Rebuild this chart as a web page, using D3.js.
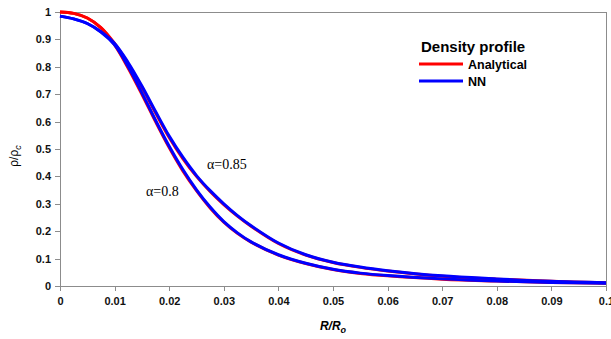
<!DOCTYPE html>
<html>
<head>
<meta charset="utf-8">
<script src="https://d3js.org/d3.v7.min.js"></script>
<style>
body, html {
    margin: 0;
    padding: 0;
    background: #fff;
    font-family: "Liberation Sans", Arial, sans-serif;
}
.axis path, .axis line {
  stroke: #8c8c8c;
  stroke-width: 1;
  shape-rendering: crispEdges;
}
.axis text {
  font-size: 11px;
  font-weight: bold;
  fill: #111;
}
.curve {
  fill: none;
  stroke-width: 3;
}
</style>
</head>
<body>
<div id="chart"></div>
<script>

// R/Ro sample positions
var rPts = [0, 0.0025, 0.005, 0.0075, 0.01, 0.0125, 0.015, 0.0175, 0.02, 0.0225,
            0.025, 0.0275, 0.03, 0.0325, 0.035, 0.04, 0.045, 0.05, 0.055, 0.06,
            0.07, 0.08, 0.09, 0.1];

// analytical, alpha = 0.8 and 0.85
var anal08  = [1.0, 0.995, 0.978, 0.942, 0.88, 0.795, 0.70, 0.60, 0.505, 0.42,
               0.348, 0.285, 0.233, 0.192, 0.16, 0.113, 0.082, 0.06, 0.046, 0.037,
               0.025, 0.018, 0.013, 0.01];
var anal085 = [1.0, 0.995, 0.978, 0.943, 0.885, 0.81, 0.725, 0.632, 0.542, 0.465,
               0.40, 0.345, 0.297, 0.255, 0.218, 0.155, 0.113, 0.086, 0.068, 0.055,
               0.036, 0.025, 0.017, 0.012];
// neural network, alpha = 0.8 and 0.85
var nn08    = [0.985, 0.975, 0.958, 0.927, 0.88, 0.80, 0.705, 0.605, 0.51, 0.425,
               0.351, 0.288, 0.235, 0.194, 0.161, 0.114, 0.083, 0.061, 0.047, 0.038,
               0.026, 0.018, 0.013, 0.01];
var nn085   = [0.985, 0.975, 0.958, 0.928, 0.885, 0.815, 0.73, 0.637, 0.547, 0.47,
               0.403, 0.348, 0.30, 0.257, 0.22, 0.157, 0.114, 0.087, 0.069, 0.056,
               0.037, 0.026, 0.017, 0.012];

var xTicks = [0, 0.01, 0.02, 0.03, 0.04, 0.05, 0.06, 0.07, 0.08, 0.09, 0.1];
var xTickLabels = ["0", "0.01", "0.02", "0.03", "0.04", "0.05", "0.06", "0.07", "0.08", "0.09", "0.1"];
var yTicks = [0, 0.1, 0.2, 0.3, 0.4, 0.5, 0.6, 0.7, 0.8, 0.9, 1];
var yTickLabels = ["0", "0.1", "0.2", "0.3", "0.4", "0.5", "0.6", "0.7", "0.8", "0.9", "1"];

var width = 611, height = 339;
var plotL = 60, plotR = 606, plotT = 12, plotB = 286;

var svg = d3.select('#chart').append('svg')
  .attr('width', width)
  .attr('height', height);

var x = d3.scaleLinear().domain([0, 0.1]).range([plotL, plotR]);
var y = d3.scaleLinear().domain([0, 1]).range([plotB, plotT]);

// plot area border (top / right)
svg.append('line').attr('x1', plotL).attr('x2', plotR).attr('y1', plotT + 0.5).attr('y2', plotT + 0.5)
  .attr('stroke', '#8c8c8c');
svg.append('line').attr('x1', plotR + 0.5).attr('x2', plotR + 0.5).attr('y1', plotT).attr('y2', plotB)
  .attr('stroke', '#8c8c8c');

svg.append('g')
  .attr('class', 'axis')
  .attr('transform', 'translate(0,' + plotB + ')')
  .call(d3.axisBottom(x).tickValues(xTicks).tickSize(5).tickSizeOuter(0).tickPadding(6)
    .tickFormat(function (d, i) { return xTickLabels[i]; }));

svg.append('g')
  .attr('class', 'axis')
  .attr('transform', 'translate(' + plotL + ',0)')
  .call(d3.axisLeft(y).tickValues(yTicks).tickSize(5).tickSizeOuter(0).tickPadding(4)
    .tickFormat(function (d, i) { return yTickLabels[i]; }));

var line = d3.line()
  .x(function (d) { return x(d[0]); })
  .y(function (d) { return y(d[1]); })
  .curve(d3.curveCatmullRom.alpha(0.5));

function pairs(vals) { return rPts.map(function (r, i) { return [r, vals[i]]; }); }

[anal08, anal085].forEach(function (s) {
  svg.append('path').datum(pairs(s)).attr('class', 'curve').attr('stroke', '#ff0000').attr('d', line);
});
[nn08, nn085].forEach(function (s) {
  svg.append('path').datum(pairs(s)).attr('class', 'curve').attr('stroke', '#0000ff').attr('d', line);
});

// alpha labels
svg.append('text').attr('x', 146).attr('y', 196)
  .style('font-family', '"Liberation Serif", "Times New Roman", serif').style('font-size', '14px')
  .text('α=0.8');
svg.append('text').attr('x', 207).attr('y', 169)
  .style('font-family', '"Liberation Serif", "Times New Roman", serif').style('font-size', '14px')
  .text('α=0.85');

// legend
svg.append('text').attr('x', 421).attr('y', 52)
  .style('font-size', '15px').style('font-weight', 'bold').text('Density profile');
var legend = [["Analytical", "#ff0000"], ["NN", "#0000ff"]];
legend.forEach(function (d, i) {
  var ly = 64 + i * 17;
  svg.append('line').attr('x1', 419).attr('x2', 463).attr('y1', ly).attr('y2', ly)
    .attr('stroke', d[1]).attr('stroke-width', 3);
  svg.append('text').attr('x', 468).attr('y', ly + 4.5)
    .style('font-size', '12.5px').style('font-weight', 'bold').text(d[0]);
});

// axis titles
var xt = svg.append('text').attr('x', 333).attr('y', 330).attr('text-anchor', 'middle')
  .style('font-size', '12px').style('font-weight', 'bold').style('font-style', 'italic');
xt.append('tspan').text('R/R');
xt.append('tspan').attr('dy', 3).style('font-size', '9px').text('o');

var yt = svg.append('text').attr('transform', 'translate(18,156) rotate(-90)').attr('text-anchor', 'middle')
  .style('font-size', '12px');
yt.append('tspan').text('ρ/ρ');
yt.append('tspan').attr('dy', 3).style('font-size', '9px').style('font-style', 'italic').text('c');

</script>
</body>
</html>
